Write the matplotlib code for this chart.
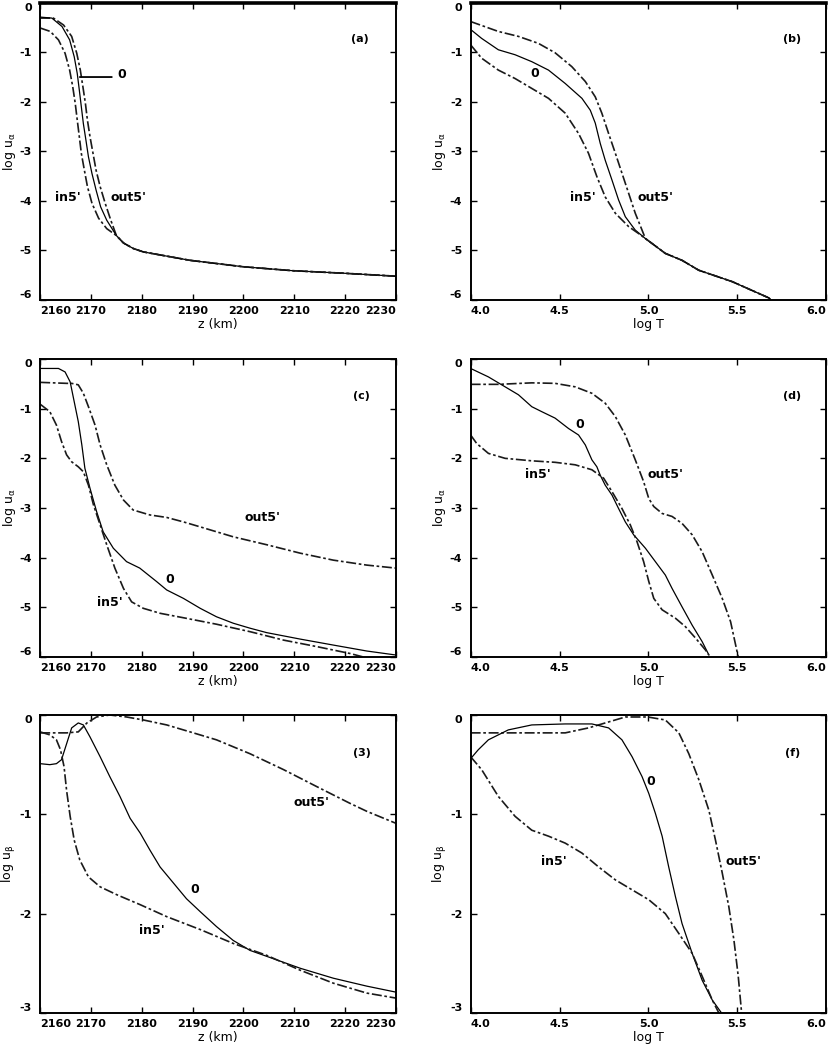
import matplotlib
matplotlib.use("Agg")
from matplotlib import pyplot as plt
import numpy as np

plt.rcParams['font.family'] = ['Liberation Sans Narrow', 'DejaVu Sans']
plt.rcParams['font.weight'] = 'bold'
plt.rcParams['mathtext.default'] = 'regular'

# ---- panel (a): log u_a vs z ----
a_tail_z = [2175.0, 2176.4, 2178.3, 2180.3, 2189.5, 2200.0, 2209.8, 2219.7, 2230.0]
a_tail_v = [-4.70, -4.85, -4.96, -5.03, -5.20, -5.33, -5.41, -5.46, -5.52]
a_out_z = [2160.0, 2162.6, 2164.6, 2166.2, 2167.2, 2167.9, 2168.4, 2168.9, 2169.3, 2169.8, 2170.4, 2171.0, 2171.8, 2172.8, 2173.9]
a_out_v = [-0.31, -0.31, -0.45, -0.68, -1.02, -1.36, -1.69, -2.03, -2.37, -2.70, -3.04, -3.38, -3.71, -4.05, -4.39]
a_zero_z = [2160.0, 2162.3, 2164.3, 2165.8, 2166.7, 2167.3, 2167.7, 2168.1, 2168.5, 2169.0, 2169.5, 2170.2, 2171.0, 2171.9, 2173.1]
a_zero_v = [-0.29, -0.31, -0.48, -0.75, -1.09, -1.43, -1.76, -2.10, -2.44, -2.77, -3.11, -3.45, -3.78, -4.12, -4.39]
a_in_z = [2160.0, 2162.0, 2163.6, 2164.9, 2165.8, 2166.4, 2166.9, 2167.3, 2167.7, 2168.1, 2168.7, 2169.3, 2170.2, 2171.5, 2173.1]
a_in_v = [-0.51, -0.58, -0.75, -1.02, -1.36, -1.69, -2.03, -2.37, -2.70, -3.04, -3.38, -3.71, -4.05, -4.35, -4.56]

# ---- panel (b): log u_a vs log T ----
b_tail_t = [4.983, 5.095, 5.189, 5.283, 5.471, 5.678, 5.687]
b_tail_v = [-4.76, -5.06, -5.20, -5.40, -5.63, -5.96, -6.00]
b_out_t = [4.0, 4.156, 4.269, 4.381, 4.475, 4.569, 4.645, 4.701, 4.738, 4.776, 4.814, 4.851, 4.889, 4.926, 4.964]
b_out_v = [-0.38, -0.58, -0.68, -0.82, -1.01, -1.29, -1.59, -1.90, -2.23, -2.64, -3.04, -3.44, -3.85, -4.25, -4.59]
b_zero_t = [4.0, 4.062, 4.156, 4.25, 4.344, 4.438, 4.532, 4.626, 4.673, 4.701, 4.729, 4.757, 4.795, 4.832, 4.870, 4.926]
b_zero_v = [-0.54, -0.72, -0.95, -1.05, -1.19, -1.36, -1.63, -1.93, -2.17, -2.43, -2.84, -3.18, -3.58, -3.98, -4.32, -4.59]
b_in_t = [4.0, 4.062, 4.156, 4.25, 4.344, 4.438, 4.532, 4.607, 4.663, 4.710, 4.757, 4.814, 4.889, 4.945]
b_in_v = [-0.85, -1.12, -1.36, -1.53, -1.73, -1.93, -2.23, -2.64, -3.04, -3.51, -3.92, -4.25, -4.52, -4.66]

# ---- panel (c): log u_a vs z ----
c_out_z = [2160.0, 2165.2, 2166.2, 2167.5, 2168.5, 2169.5, 2170.8, 2171.8, 2173.1, 2174.7, 2176.4, 2178.3, 2181.6, 2184.9,
           2188.2, 2191.5, 2198.0, 2204.6, 2211.2, 2217.7, 2224.3, 2230.0]
c_out_v = [-0.47, -0.49, -0.49, -0.52, -0.69, -0.96, -1.33, -1.73, -2.13, -2.54, -2.84, -3.04, -3.14, -3.19,
           -3.28, -3.38, -3.58, -3.74, -3.91, -4.05, -4.15, -4.21]
c_zero_z = [2160.0, 2163.6, 2164.9, 2165.9, 2166.7, 2167.5, 2168.2, 2168.8, 2169.8, 2171.1, 2172.4, 2174.4, 2177.0,
            2179.6, 2182.9, 2184.9, 2188.2, 2191.5, 2194.7, 2198.0, 2201.3, 2204.6, 2211.2, 2217.7, 2224.3, 2230.0]
c_zero_v = [-0.19, -0.19, -0.26, -0.46, -0.86, -1.26, -1.73, -2.20, -2.60, -3.07, -3.48, -3.81, -4.08,
            -4.21, -4.48, -4.65, -4.82, -5.02, -5.19, -5.32, -5.42, -5.51, -5.64, -5.76, -5.88, -5.96]
c_in_z = [2160.0, 2161.9, 2163.2, 2164.2, 2165.2, 2166.2, 2167.5, 2168.5, 2169.5, 2170.5, 2171.8, 2173.1, 2174.7,
          2176.4, 2178.0, 2180.3, 2183.6, 2188.2, 2194.7, 2201.3, 2207.9, 2214.4, 2221.0, 2223.6]
c_in_v = [-0.91, -1.06, -1.33, -1.66, -1.93, -2.07, -2.17, -2.27, -2.54, -2.94, -3.34, -3.74, -4.21,
          -4.62, -4.89, -5.02, -5.12, -5.21, -5.34, -5.49, -5.66, -5.79, -5.93, -6.00]

# ---- panel (d): log u_a vs log T ----
d_out_t = [4.0, 4.156, 4.344, 4.475, 4.588, 4.682, 4.757, 4.814, 4.870, 4.926, 4.973, 5.002, 5.030, 5.077, 5.133,
           5.189, 5.246, 5.302, 5.359, 5.415, 5.462, 5.505]
d_out_v = [-0.51, -0.51, -0.48, -0.49, -0.56, -0.69, -0.89, -1.16, -1.53, -2.03, -2.47, -2.81, -2.97, -3.11, -3.17,
           -3.31, -3.54, -3.88, -4.35, -4.82, -5.29, -6.00]
d_zero_t = [4.0, 4.1, 4.194, 4.269, 4.344, 4.4, 4.475, 4.551, 4.607, 4.645, 4.682, 4.710, 4.729, 4.757, 4.795,
            4.832, 4.870, 4.917, 4.983, 5.039, 5.095, 5.133, 5.189, 5.246, 5.302, 5.340]
d_zero_v = [-0.19, -0.36, -0.56, -0.72, -0.96, -1.06, -1.19, -1.40, -1.53, -1.73, -2.03, -2.17, -2.34, -2.54, -2.74,
            -3.01, -3.28, -3.54, -3.81, -4.08, -4.35, -4.62, -4.99, -5.36, -5.69, -5.96]
d_in_t = [4.0, 4.034, 4.1, 4.194, 4.344, 4.475, 4.588, 4.682, 4.748, 4.795, 4.851, 4.898, 4.936, 4.973, 5.002,
          5.030, 5.077, 5.152, 5.208, 5.265, 5.321, 5.340]
d_in_v = [-1.53, -1.70, -1.90, -2.00, -2.05, -2.08, -2.13, -2.23, -2.40, -2.67, -3.01, -3.34, -3.68, -4.08, -4.48,
          -4.82, -5.05, -5.22, -5.39, -5.62, -5.86, -5.96]

# ---- panel (e): log u_b vs z ----
e_out_z = [2160.0, 2161.9, 2165.2, 2167.5, 2169.2, 2171.1, 2173.7, 2177.0, 2180.3, 2184.9, 2189.5, 2194.7, 2201.3,
           2207.9, 2214.4, 2221.0, 2224.3, 2230.0]
e_out_v = [-0.18, -0.18, -0.18, -0.17, -0.08, -0.02, 0.0, -0.02, -0.05, -0.10, -0.17, -0.25, -0.39,
           -0.55, -0.72, -0.89, -0.97, -1.09]
e_zero_z = [2160.0, 2161.9, 2163.2, 2164.2, 2165.2, 2166.2, 2167.5, 2168.5, 2169.8, 2171.8, 2173.7, 2175.7, 2177.7,
            2179.7, 2181.6, 2183.6, 2186.2, 2188.8, 2191.5, 2194.7, 2198.0, 2201.3, 2204.6, 2211.2, 2217.7, 2224.3, 2230.0]
e_zero_v = [-0.49, -0.50, -0.49, -0.45, -0.29, -0.13, -0.08, -0.10, -0.22, -0.42, -0.62, -0.82, -1.04,
            -1.19, -1.36, -1.53, -1.69, -1.85, -1.98, -2.13, -2.27, -2.37, -2.43, -2.55, -2.65, -2.73, -2.79]
e_in_z = [2160.0, 2161.9, 2163.2, 2164.0, 2164.7, 2165.2, 2165.9, 2166.7, 2167.8, 2169.5, 2171.8, 2175.1, 2179.7,
          2184.9, 2191.5, 2198.0, 2204.6, 2211.2, 2217.7, 2224.3, 2230.0]
e_in_v = [-0.17, -0.20, -0.25, -0.35, -0.52, -0.76, -1.02, -1.26, -1.46, -1.63, -1.73, -1.81, -1.91,
          -2.03, -2.16, -2.30, -2.42, -2.57, -2.70, -2.80, -2.85]

# ---- panel (f): log u_b vs log T ----
f_out_t = [4.0, 4.156, 4.344, 4.532, 4.663, 4.776, 4.870, 4.996, 5.095, 5.171, 5.227, 5.283, 5.34, 5.377, 5.415,
           5.452, 5.481, 5.505, 5.524]
f_out_v = [-0.18, -0.18, -0.18, -0.18, -0.13, -0.07, -0.02, -0.02, -0.05, -0.18, -0.39, -0.65, -0.96, -1.26, -1.59,
           -1.93, -2.27, -2.63, -3.00]
f_zero_t = [4.0, 4.043, 4.1, 4.212, 4.344, 4.532, 4.682, 4.776, 4.851, 4.908, 4.964, 5.002, 5.039, 5.077, 5.114,
            5.152, 5.189, 5.246, 5.302, 5.359, 5.411]
f_zero_v = [-0.44, -0.35, -0.25, -0.15, -0.10, -0.09, -0.09, -0.13, -0.25, -0.42, -0.62, -0.79, -0.99, -1.22, -1.53,
            -1.83, -2.10, -2.40, -2.67, -2.87, -3.00]
f_in_t = [4.0, 4.062, 4.156, 4.25, 4.344, 4.438, 4.532, 4.626, 4.720, 4.814, 4.908, 5.002, 5.095, 5.171, 5.246,
          5.302, 5.359, 5.396]
f_in_v = [-0.42, -0.55, -0.82, -1.02, -1.16, -1.22, -1.29, -1.39, -1.53, -1.66, -1.76, -1.86, -2.00, -2.20, -2.40,
          -2.63, -2.87, -3.00]

z_ticks = [2160, 2170, 2180, 2190, 2200, 2210, 2220, 2230]
t_ticks = [4.0, 4.5, 5.0, 5.5, 6.0]
t_ticklabels = ["4.0", "4.5", "5.0", "5.5", "6.0"]

dashdot = (0, (6, 1.6, 1.6, 1.6))
fs = 8


def style_axes(ax, xticks, xlabels, xlim, yticks, ylim, xlabel, ylabel, top_thick=False):
    ax.set_xlim(*xlim)
    ax.set_ylim(*ylim)
    ax.set_xticks(xticks)
    ax.set_xticklabels(xlabels)
    ax.set_yticks(yticks)
    ax.set_yticklabels([str(int(t)) for t in yticks])
    ax.tick_params(direction='in', length=4, width=1, top=True, right=True, labelsize=fs)
    ax.tick_params(axis='x', pad=4)
    ax.tick_params(axis='y', pad=6)
    for sp in ax.spines.values():
        sp.set_linewidth(1.4)
    if top_thick:
        ax.spines['top'].set_linewidth(2.6)
    xl = ax.get_xticklabels()
    xl[0].set_ha('left')
    xl[-1].set_ha('right')
    yl = ax.get_yticklabels()
    yl[0].set_va('bottom')
    yl[-1].set_va('top')
    ax.set_xlabel(xlabel, fontsize=9, labelpad=2)
    ax.set_ylabel(ylabel, fontsize=9, labelpad=1)


def draw(ax, x_out, v_out, x_zero, v_zero, x_in, v_in):
    ax.plot(x_out, v_out, color='0.1', lw=1.2, ls=dashdot)
    ax.plot(x_zero, v_zero, color='black', lw=0.9)
    ax.plot(x_in, v_in, color='0.1', lw=1.2, ls=dashdot)


fig = plt.figure(figsize=(8.3, 10.47), dpi=100)
lefts = [0.0484, 0.567]
bottoms = [0.7135, 0.3725, 0.0325]
w = 0.4285
heights = [0.2839, 0.2846, 0.2846]

ax_a = fig.add_axes([lefts[0], bottoms[0], w, heights[0]])
ax_b = fig.add_axes([lefts[1], bottoms[0], w, heights[0]])
ax_c = fig.add_axes([lefts[0], bottoms[1], w, heights[1]])
ax_d = fig.add_axes([lefts[1], bottoms[1], w, heights[1]])
ax_e = fig.add_axes([lefts[0], bottoms[2], w, heights[2]])
ax_f = fig.add_axes([lefts[1], bottoms[2], w, heights[2]])

ya = r'log u$_\alpha$'
yb = r'log u$_\beta$'
u_ticks6 = [-6, -5, -4, -3, -2, -1, 0]
u_ticks3 = [-3, -2, -1, 0]

# (a)
draw(ax_a, a_out_z + a_tail_z, a_out_v + a_tail_v,
     a_zero_z + a_tail_z, a_zero_v + a_tail_v,
     a_in_z + a_tail_z, a_in_v + a_tail_v)
ax_a.annotate("", xy=(2167.8, -1.5), xytext=(2174.1, -1.5),
              arrowprops=dict(arrowstyle='-', color='black', lw=1.3, shrinkA=0, shrinkB=0))
ax_a.text(2176.1, -1.44, "0", fontsize=fs + 1, ha='center', va='center')
ax_a.text(2165.5, -3.94, "in5'", fontsize=fs + 1, ha='center', va='center')
ax_a.text(2177.3, -3.94, "out5'", fontsize=fs + 1, ha='center', va='center')
ax_a.text(2223.0, -0.73, "(a)", fontsize=fs, ha='center', va='center')
style_axes(ax_a, z_ticks, [str(t) for t in z_ticks], (2160, 2230), u_ticks6, (-6, 0),
           "z (km)", ya, top_thick=True)

# (b)
draw(ax_b, b_out_t + b_tail_t, b_out_v + b_tail_v,
     b_zero_t + b_tail_t, b_zero_v + b_tail_v,
     b_in_t + b_tail_t, b_in_v + b_tail_v)
ax_b.text(4.363, -1.42, "0", fontsize=fs + 1, ha='center', va='center')
ax_b.text(4.633, -3.94, "in5'", fontsize=fs + 1, ha='center', va='center')
ax_b.text(5.04, -3.94, "out5'", fontsize=fs + 1, ha='center', va='center')
ax_b.text(5.81, -0.73, "(b)", fontsize=fs, ha='center', va='center')
style_axes(ax_b, t_ticks, t_ticklabels, (4.0, 6.0), u_ticks6, (-6, 0),
           "log T", ya, top_thick=True)

# (c)
draw(ax_c, c_out_z, c_out_v, c_zero_z, c_zero_v, c_in_z, c_in_v)
ax_c.text(2203.7, -3.2, "out5'", fontsize=fs + 1, ha='center', va='center')
ax_c.text(2185.6, -4.43, "0", fontsize=fs + 1, ha='center', va='center')
ax_c.text(2173.8, -4.91, "in5'", fontsize=fs + 1, ha='center', va='center')
ax_c.text(2223.3, -0.74, "(c)", fontsize=fs, ha='center', va='center')
style_axes(ax_c, z_ticks, [str(t) for t in z_ticks], (2160, 2230), u_ticks6, (-6, 0),
           "z (km)", ya)

# (d)
draw(ax_d, d_out_t, d_out_v, d_zero_t, d_zero_v, d_in_t, d_in_v)
ax_d.text(4.611, -1.31, "0", fontsize=fs + 1, ha='center', va='center')
ax_d.text(4.379, -2.33, "in5'", fontsize=fs + 1, ha='center', va='center')
ax_d.text(5.095, -2.33, "out5'", fontsize=fs + 1, ha='center', va='center')
ax_d.text(5.81, -0.74, "(d)", fontsize=fs, ha='center', va='center')
style_axes(ax_d, t_ticks, t_ticklabels, (4.0, 6.0), u_ticks6, (-6, 0),
           "log T", ya)

# (e)
draw(ax_e, e_out_z, e_out_v, e_zero_z, e_zero_v, e_in_z, e_in_v)
ax_e.text(2213.5, -0.88, "out5'", fontsize=fs + 1, ha='center', va='center')
ax_e.text(2190.5, -1.76, "0", fontsize=fs + 1, ha='center', va='center')
ax_e.text(2182.0, -2.17, "in5'", fontsize=fs + 1, ha='center', va='center')
ax_e.text(2223.3, -0.38, "(3)", fontsize=fs, ha='center', va='center')
style_axes(ax_e, z_ticks, [str(t) for t in z_ticks], (2160, 2230), u_ticks3, (-3, 0),
           "z (km)", yb)

# (f)
draw(ax_f, f_out_t, f_out_v, f_zero_t, f_zero_v, f_in_t, f_in_v)
ax_f.text(5.012, -0.67, "0", fontsize=fs + 1, ha='center', va='center')
ax_f.text(4.47, -1.48, "in5'", fontsize=fs + 1, ha='center', va='center')
ax_f.text(5.535, -1.48, "out5'", fontsize=fs + 1, ha='center', va='center')
ax_f.text(5.81, -0.38, "(f)", fontsize=fs, ha='center', va='center')
style_axes(ax_f, t_ticks, t_ticklabels, (4.0, 6.0), u_ticks3, (-3, 0),
           "log T", yb)

fig.savefig("out.png", dpi=100)
